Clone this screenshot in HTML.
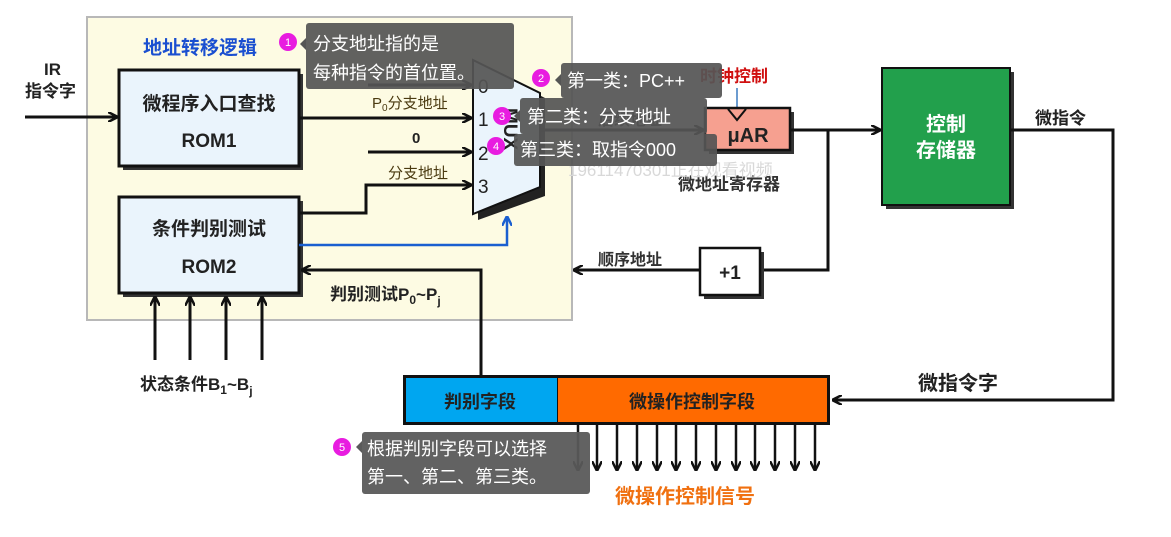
<!DOCTYPE html>
<html><head><meta charset="utf-8"><style>
html,body{margin:0;padding:0;background:#fff;width:1171px;height:537px;overflow:hidden}
svg{display:block}
text{font-family:"Liberation Sans","Noto Sans CJK SC",sans-serif}
.b{font-weight:bold}
</style></head><body>
<svg width="1171" height="537" viewBox="0 0 1171 537">
<defs>
<marker id="ar" markerWidth="10" markerHeight="10" refX="9" refY="5" orient="auto" markerUnits="userSpaceOnUse"><path d="M0,0 L10,5 L0,10" fill="none" stroke="#111" stroke-width="2.5"/></marker>
<marker id="arb" markerWidth="10" markerHeight="10" refX="9" refY="5" orient="auto" markerUnits="userSpaceOnUse"><path d="M0,0 L10,5 L0,10" fill="none" stroke="#1a5fd0" stroke-width="2.5"/></marker>
</defs>
<!-- panel -->
<rect x="87" y="17" width="485" height="303" fill="#fdfbe3" stroke="#b8b8b8" stroke-width="2"/>
<text x="143" y="54" class="b" font-size="19" fill="#1a4fd0">地址转移逻辑</text>
<!-- IR -->
<text x="44" y="75" class="b" font-size="17" fill="#222">IR</text>
<text x="25" y="97" class="b" font-size="17" fill="#222">指令字</text>
<line x1="25" y1="117" x2="117" y2="117" stroke="#111" stroke-width="3" marker-end="url(#ar)"/>
<!-- ROM1 -->
<rect x="123" y="74" width="180" height="96" fill="#333"/>
<rect x="119" y="70" width="180" height="96" fill="#eaf4fc" stroke="#111" stroke-width="3"/>
<text x="209" y="110" class="b" font-size="19" text-anchor="middle" fill="#222">微程序入口查找</text>
<text x="209" y="147" class="b" font-size="19" text-anchor="middle" fill="#222">ROM1</text>
<!-- ROM2 -->
<rect x="123" y="201" width="180" height="96" fill="#333"/>
<rect x="119" y="197" width="180" height="96" fill="#eaf4fc" stroke="#111" stroke-width="3"/>
<text x="209" y="235" class="b" font-size="19" text-anchor="middle" fill="#222">条件判别测试</text>
<text x="209" y="273" class="b" font-size="19" text-anchor="middle" fill="#222">ROM2</text>
<!-- status arrows -->
<g stroke="#111" stroke-width="3">
<line x1="155" y1="360" x2="155" y2="297" marker-end="url(#ar)"/>
<line x1="190" y1="360" x2="190" y2="297" marker-end="url(#ar)"/>
<line x1="226" y1="360" x2="226" y2="297" marker-end="url(#ar)"/>
<line x1="262" y1="360" x2="262" y2="297" marker-end="url(#ar)"/>
</g>
<text x="140" y="390" class="b" font-size="17" fill="#222">状态条件B<tspan font-size="12" dy="4">1</tspan><tspan dy="-4">~B</tspan><tspan font-size="12" dy="5">j</tspan></text>
<!-- mux -->
<polygon points="478,64 545,98 545,196 478,220" fill="#222"/>
<polygon points="473,60 540,93 540,187 473,214" fill="#eaf4fc" stroke="#111" stroke-width="2"/>
<text x="478" y="93" font-size="19" fill="#222">0</text>
<text x="478" y="126" font-size="19" fill="#222">1</text>
<text x="478" y="160" font-size="19" fill="#222">2</text>
<text x="478" y="193" font-size="19" fill="#222">3</text>
<text x="0" y="0" font-size="19" class="b" fill="#222" transform="translate(504,108) rotate(90)">MUX</text>
<g stroke="#111" stroke-width="3" fill="none">
<line x1="368" y1="85" x2="471" y2="85" marker-end="url(#ar)"/>
<line x1="299" y1="118" x2="471" y2="118" marker-end="url(#ar)"/>
<line x1="368" y1="152" x2="471" y2="152" marker-end="url(#ar)"/>
<polyline points="299,213 366,213 366,185 471,185" marker-end="url(#ar)"/>
</g>
<text x="372" y="108" font-size="15" fill="#4a3a10">P<tspan font-size="10" dy="3">0</tspan><tspan dy="-3">分支地址</tspan></text>
<text x="412" y="143" class="b" font-size="15" fill="#222">0</text>
<text x="388" y="178" font-size="15" fill="#4a3a10">分支地址</text>
<polyline points="299,245 507,245 507,217" fill="none" stroke="#1a5fd0" stroke-width="2.5" marker-end="url(#arb)"/>
<!-- feedback -->
<polyline points="481,375 481,270 302,270" fill="none" stroke="#111" stroke-width="3" marker-end="url(#ar)"/>
<text x="330" y="300" class="b" font-size="17" fill="#222">判别测试P<tspan font-size="12" dy="4">0</tspan><tspan dy="-4">~P</tspan><tspan font-size="12" dy="5">j</tspan></text>
<!-- to uAR -->
<line x1="540" y1="130" x2="703" y2="130" stroke="#111" stroke-width="3" marker-end="url(#ar)"/>
<text x="598" y="125" font-size="16" class="b" fill="#333">后续地址</text>
<text x="700" y="82" class="b" font-size="17" fill="#d01010">时钟控制</text>
<line x1="737" y1="88" x2="737" y2="108" stroke="#3a7ac0" stroke-width="1.5"/>
<rect x="709" y="112" width="85" height="42" fill="#333"/>
<rect x="705" y="108" width="85" height="42" fill="#f6a090" stroke="#111" stroke-width="2.5"/>
<polyline points="728,109 737,120 746,109" fill="none" stroke="#111" stroke-width="2"/>
<text x="748" y="142" class="b" font-size="20" text-anchor="middle" fill="#222">μAR</text>
<text x="678" y="190" class="b" font-size="17" fill="#333">微地址寄存器</text>
<text x="568" y="176" font-size="17" fill="#d8d8d8">19611470301正在观看视频</text>
<line x1="790" y1="130" x2="880" y2="130" stroke="#111" stroke-width="3" marker-end="url(#ar)"/>
<polyline points="828,130 828,270 760,270" fill="none" stroke="#111" stroke-width="3"/>
<rect x="704" y="252" width="60" height="47" fill="#333"/>
<rect x="700" y="248" width="60" height="47" fill="#fff" stroke="#111" stroke-width="2.5"/>
<text x="730" y="279" class="b" font-size="19" text-anchor="middle" fill="#222">+1</text>
<line x1="700" y1="270" x2="574" y2="270" stroke="#111" stroke-width="3" marker-end="url(#ar)"/>
<text x="598" y="265" class="b" font-size="16" fill="#333">顺序地址</text>
<!-- control memory -->
<rect x="886" y="72" width="128" height="137" fill="#333"/>
<rect x="882" y="68" width="128" height="137" fill="#22a04c" stroke="#111" stroke-width="2"/>
<text x="946" y="131" class="b" font-size="20" text-anchor="middle" fill="#fff">控制</text>
<text x="946" y="157" class="b" font-size="20" text-anchor="middle" fill="#fff">存储器</text>
<text x="1035" y="124" class="b" font-size="17" fill="#222">微指令</text>
<polyline points="1010,130 1113,130 1113,400 833,400" fill="none" stroke="#111" stroke-width="3" marker-end="url(#ar)"/>
<text x="918" y="390" class="b" font-size="20" fill="#222">微指令字</text>
<!-- microinstruction -->
<rect x="403" y="375" width="427" height="50" fill="#111"/>
<rect x="406" y="378" width="151" height="44" fill="#00a6f0"/>
<rect x="558" y="378" width="269" height="44" fill="#ff6a00"/>
<text x="480" y="408" class="b" font-size="18" text-anchor="middle" fill="#222">判别字段</text>
<text x="692" y="408" class="b" font-size="18" text-anchor="middle" fill="#222">微操作控制字段</text>
<g stroke="#111" stroke-width="2.5">
<line x1="578" y1="425" x2="578" y2="470" marker-end="url(#ar)"/>
<line x1="597" y1="425" x2="597" y2="470" marker-end="url(#ar)"/>
<line x1="617" y1="425" x2="617" y2="470" marker-end="url(#ar)"/>
<line x1="637" y1="425" x2="637" y2="470" marker-end="url(#ar)"/>
<line x1="657" y1="425" x2="657" y2="470" marker-end="url(#ar)"/>
<line x1="676" y1="425" x2="676" y2="470" marker-end="url(#ar)"/>
<line x1="696" y1="425" x2="696" y2="470" marker-end="url(#ar)"/>
<line x1="716" y1="425" x2="716" y2="470" marker-end="url(#ar)"/>
<line x1="736" y1="425" x2="736" y2="470" marker-end="url(#ar)"/>
<line x1="755" y1="425" x2="755" y2="470" marker-end="url(#ar)"/>
<line x1="775" y1="425" x2="775" y2="470" marker-end="url(#ar)"/>
<line x1="795" y1="425" x2="795" y2="470" marker-end="url(#ar)"/>
<line x1="815" y1="425" x2="815" y2="470" marker-end="url(#ar)"/>
</g>
<text x="615" y="503" class="b" font-size="20" fill="#f07010">微操作控制信号</text>
<!-- tooltips -->
<g font-size="18" fill="#fff">
<rect x="306" y="23" width="208" height="66" rx="3" fill="#555" fill-opacity="0.93"/>
<polygon points="306,38 300,44 306,50" fill="#555"/>
<text x="313" y="50">分支地址指的是</text>
<text x="313" y="79">每种指令的首位置。</text>
<rect x="561" y="63" width="161" height="35" rx="3" fill="#555" fill-opacity="0.93"/>
<polygon points="561,74 555,80 561,86" fill="#555"/>
<text x="567" y="87">第一类：PC++</text>
<rect x="520" y="98" width="187" height="36" rx="3" fill="#555" fill-opacity="0.93"/>
<polygon points="520,110 514,116 520,122" fill="#555"/>
<text x="527" y="123">第二类：分支地址</text>
<rect x="514" y="134" width="203" height="32" rx="3" fill="#555" fill-opacity="0.93"/>
<text x="520" y="156">第三类：取指令000</text>
<rect x="362" y="432" width="228" height="62" rx="3" fill="#5a5a5a" fill-opacity="0.95"/>
<polygon points="362,441 356,447 362,453" fill="#5a5a5a"/>
<text x="367" y="455">根据判别字段可以选择</text>
<text x="367" y="483">第一、第二、第三类。</text>
</g>
<g font-size="11" fill="#fff" text-anchor="middle">
<circle cx="288" cy="42" r="9" fill="#e81ce0"/><text x="288" y="46">1</text>
<circle cx="541" cy="78" r="9" fill="#e81ce0"/><text x="541" y="82">2</text>
<circle cx="502" cy="116" r="9" fill="#e81ce0"/><text x="502" y="120">3</text>
<circle cx="496" cy="146" r="9" fill="#e81ce0"/><text x="496" y="150">4</text>
<circle cx="342" cy="447" r="9" fill="#e81ce0"/><text x="342" y="451">5</text>
</g>
</svg>
</body></html>
